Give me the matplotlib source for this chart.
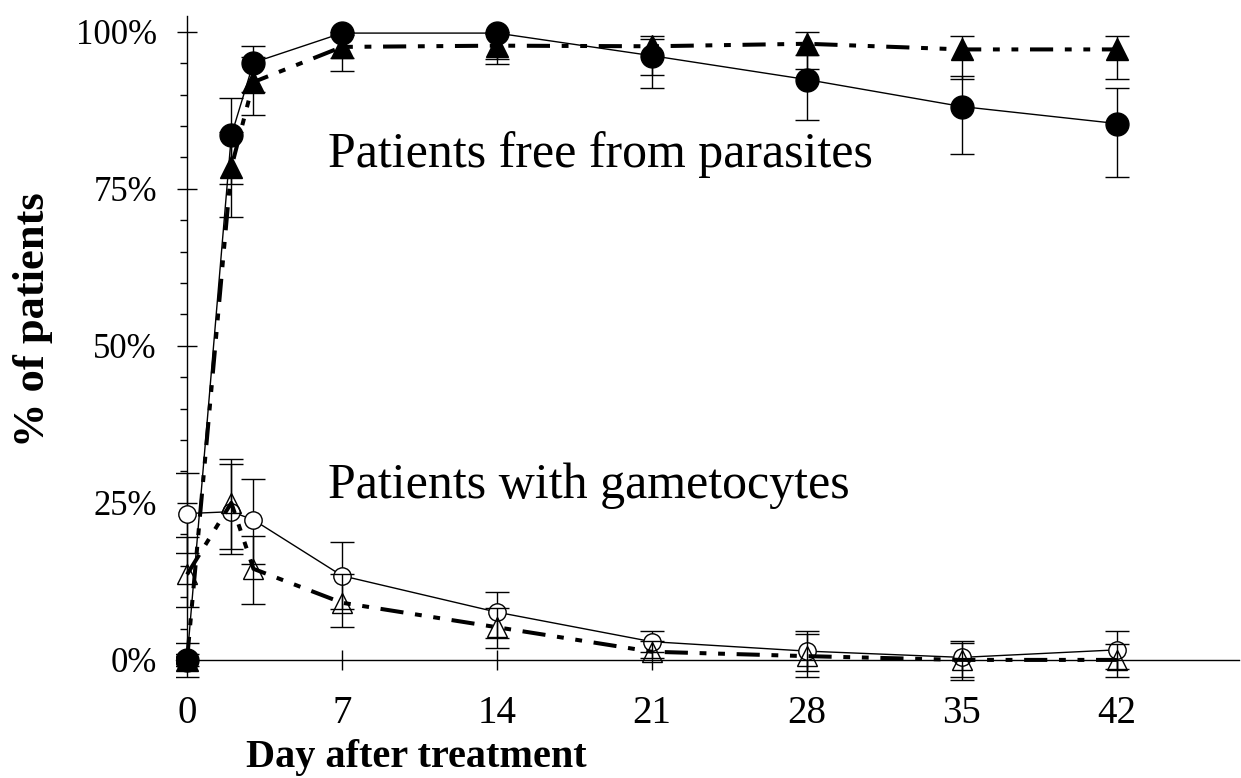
import numpy as np
import matplotlib
matplotlib.use("Agg")
import matplotlib.pyplot as plt
from matplotlib.ticker import MultipleLocator, FuncFormatter

plt.rcParams['font.family'] = ['Liberation Serif', 'DejaVu Serif']

# days of follow-up
days = [0, 2, 3, 7, 14, 21, 28, 35, 42]

# patients free from parasites (%), filled circles / filled triangles
free_circ = [0.0, 83.5, 95.1, 99.8, 99.8, 96.2, 92.4, 88.1, 85.4]
free_circ_hi = [2.7, 89.5, 97.8, 100.0, 100.0, 98.9, 96.3, 93.0, 91.0]
free_circ_lo = [-2.7, 75.8, 90.5, 95.9, 95.7, 91.0, 85.9, 80.5, 76.9]

free_tri = [0.0, 78.4, 92.0, 97.6, 97.8, 97.7, 98.1, 97.2, 97.2]
free_tri_hi = [1.0, 84.0, 96.0, 99.5, 99.6, 99.4, 100.0, 99.4, 99.4]
free_tri_lo = [-1.0, 70.5, 86.7, 93.7, 94.8, 93.2, 94.1, 92.5, 92.5]

# patients with gametocytes (%), open circles / open triangles
gam_circ = [23.3, 23.6, 22.3, 13.4, 7.6, 2.9, 1.4, 0.4, 1.6]
gam_circ_hi = [29.8, 32.0, 28.8, 18.7, 10.8, 4.6, 4.6, 3.0, 4.6]
gam_circ_lo = [17.0, 16.8, 15.2, 8.1, 3.5, 1.2, -1.8, -3.2, -1.4]

gam_tri = [13.6, 25.0, 14.5, 9.1, 5.2, 1.3, 0.6, 0.0, 0.0]
gam_tri_hi = [19.5, 31.2, 19.8, 13.6, 8.2, 3.0, 4.1, 2.7, 2.5]
gam_tri_lo = [8.4, 17.7, 8.9, 5.2, 1.9, 0.3, -2.7, -2.7, -2.7]

x_ticks = [0, 7, 14, 21, 28, 35, 42]
y_ticks = [0, 25, 50, 75, 100]


def yerr(v, lo, hi):
    v = np.array(v)
    return [v - np.array(lo), np.array(hi) - v]


fig = plt.figure(figsize=(12.41, 7.78), dpi=100)
ax = fig.add_axes([0.1418, 0.1195, 0.8563, 0.8638])

dashdot2 = (0, (5.75, 2.9, 1.7, 2.9, 1.7, 2.9))
eb = dict(ecolor='black', elinewidth=1.0, capsize=8.3, capthick=1.0)

# triangles first, circles on top
ax.errorbar(days, free_tri, yerr=yerr(free_tri, free_tri_lo, free_tri_hi),
            color='black', lw=2.9, ls=dashdot2, marker='^', ms=16,
            mfc='black', mec='black', zorder=3, **eb)
ax.errorbar(days, free_circ, yerr=yerr(free_circ, free_circ_lo, free_circ_hi),
            color='black', lw=1.0, ls='-', marker='o', ms=16.5,
            mfc='black', mec='black', zorder=4, **eb)

ax.errorbar(days, gam_circ, yerr=yerr(gam_circ, gam_circ_lo, gam_circ_hi),
            color='black', lw=1.0, ls='-', marker='o', ms=12.5,
            mfc='white', mec='black', mew=1.0, zorder=3, **eb)
ax.errorbar(days, gam_tri, yerr=yerr(gam_tri, gam_tri_lo, gam_tri_hi),
            color='black', lw=2.9, ls=dashdot2, marker='^', ms=14,
            mfc='none', mec='black', mew=1.0, zorder=4, **eb)

ax.set_xlim(-0.5, 47.5)
ax.set_ylim(-4, 103)

for s in ['top', 'right']:
    ax.spines[s].set_visible(False)
ax.spines['left'].set_position(('data', 0))
ax.spines['bottom'].set_position(('data', 0))
ax.spines['left'].set_bounds(-1.2, 102.6)
ax.spines['bottom'].set_bounds(-0.5, 47.5)
ax.spines['left'].set_linewidth(1.0)
ax.spines['bottom'].set_linewidth(1.0)

ax.set_xticks(x_ticks)
ax.set_yticks(y_ticks)
ax.yaxis.set_minor_locator(MultipleLocator(5))
ax.yaxis.set_major_formatter(FuncFormatter(lambda v, p: '%d%%' % v))
ax.tick_params(axis='x', which='major', direction='inout', length=14.4,
               width=1.0, pad=18, labelsize=28)
ax.tick_params(axis='y', which='major', direction='inout', length=14.4,
               width=1.0, pad=14.4, labelsize=25)
ax.tick_params(axis='y', which='minor', direction='out', length=5, width=1.0)

ax.text(6.37, 78.4, 'Patients free from parasites', fontsize=36, va='baseline')
ax.text(6.37, 25.7, 'Patients with gametocytes', fontsize=36, va='baseline')

fig.text(416 / 1241, 1 - 757 / 778, 'Day after treatment', fontsize=29,
         fontweight='bold', ha='center', va='center')
fig.text(33 / 1241, 1 - 320 / 778, '% of patients', fontsize=32,
         fontweight='bold', ha='center', va='center', rotation=90)

fig.savefig('out.png', dpi=100)
